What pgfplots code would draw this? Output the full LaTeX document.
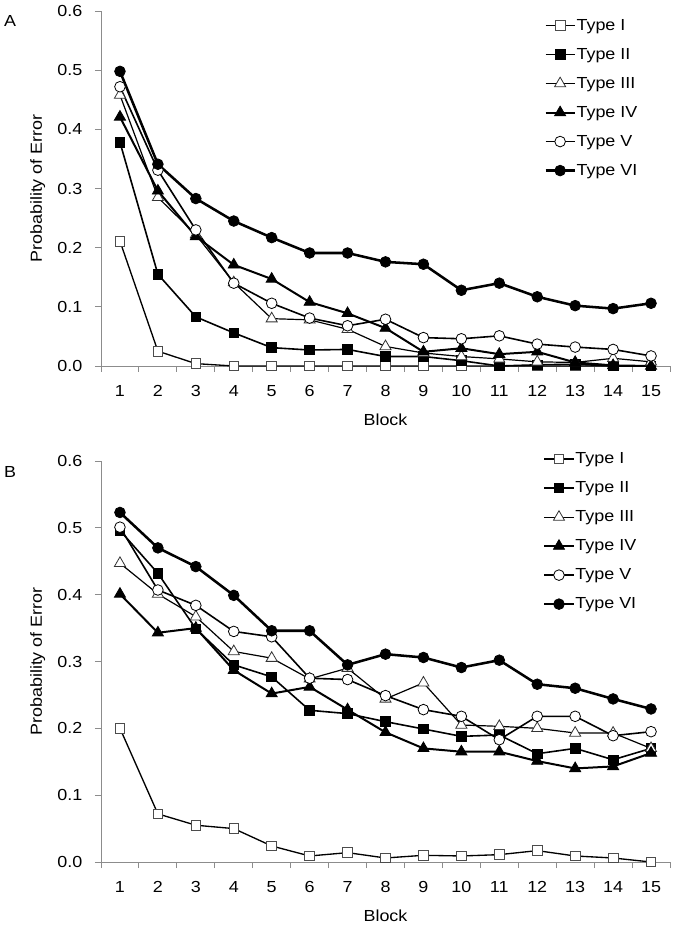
\documentclass[border=0pt]{standalone}
\usepackage{fontspec}
\setmainfont{Liberation Sans}[FakeStretch=1.12]
\usepackage{pgfplots}
\usepackage{pgfplotstable}
\pgfplotsset{compat=1.18}

% probability of error per block, panel A
\pgfplotstableread{
block t1    t2    t3    t4    t5    t6
1     0.211 0.378 0.458 0.421 0.472 0.498
2     0.025 0.155 0.285 0.296 0.331 0.341
3     0.004 0.083 0.222 0.219 0.230 0.283
4     0.000 0.056 0.141 0.171 0.140 0.245
5     0.000 0.031 0.080 0.147 0.106 0.217
6     0.000 0.027 0.078 0.108 0.081 0.191
7     0.000 0.028 0.062 0.089 0.068 0.191
8     0.000 0.016 0.033 0.064 0.079 0.176
9     0.000 0.016 0.022 0.024 0.048 0.172
10    0.000 0.009 0.016 0.030 0.046 0.128
11    0.000 0.000 0.012 0.020 0.051 0.140
12    0.000 0.002 0.007 0.024 0.037 0.117
13    0.000 0.003 0.006 0.006 0.032 0.102
14    0.000 0.000 0.013 0.001 0.028 0.097
15    0.000 0.000 0.007 0.000 0.017 0.106
}\dataA

% panel B
\pgfplotstableread{
block t1    t2    t3    t4    t5    t6
1     0.200 0.496 0.447 0.401 0.501 0.523
2     0.072 0.432 0.401 0.343 0.407 0.470
3     0.055 0.349 0.367 0.350 0.384 0.442
4     0.050 0.295 0.315 0.287 0.345 0.399
5     0.024 0.277 0.305 0.252 0.337 0.346
6     0.009 0.227 0.274 0.262 0.275 0.346
7     0.014 0.222 0.290 0.228 0.273 0.295
8     0.006 0.210 0.244 0.194 0.249 0.311
9     0.010 0.199 0.268 0.170 0.228 0.306
10    0.009 0.188 0.205 0.165 0.218 0.291
11    0.011 0.190 0.203 0.165 0.183 0.302
12    0.017 0.162 0.200 0.151 0.218 0.266
13    0.009 0.170 0.193 0.140 0.218 0.260
14    0.006 0.153 0.193 0.143 0.189 0.244
15    0.000 0.170 0.170 0.163 0.195 0.229
}\dataB

\newcommand{\chartfont}{\fontsize{12}{14}\selectfont}

\pgfplotsset{
  tI/.style={black, line width=1pt, mark=square*, mark size=3.6pt,
    mark options={fill=white, draw=black!70, line width=0.6pt}},
  tII/.style={black, line width=1.2pt, mark=square*, mark size=3.6pt,
    mark options={fill=black, draw=black, line width=0.6pt}},
  tIII/.style={black, line width=0.9pt, mark=triangle*, mark size=4.8pt,
    mark options={fill=white, draw=black!80, line width=0.6pt}},
  tIV/.style={black, line width=1.5pt, mark=triangle*, mark size=4.8pt,
    mark options={fill=black, draw=black, line width=0.6pt}},
  tV/.style={black, line width=1.2pt, mark=*, mark size=4pt,
    mark options={fill=white, draw=black, line width=0.6pt}},
  tVI/.style={black, line width=1.9pt, mark=*, mark size=4pt,
    mark options={fill=black, draw=black, line width=0.6pt}},
  panel/.style={
    scale only axis,
    width=426.75pt,
    xmin=0.5, xmax=15.5, ymin=0, ymax=0.6,
    clip=false,
    axis x line*=bottom, axis y line*=left,
    axis line style={draw=black!45, line width=0.7pt},
    tick align=outside,
    major tick length=4.5pt, minor tick length=4.5pt,
    tick style={draw=black!45, line width=0.7pt},
    major x tick style={draw=none},
    xtick={1,...,15},
    minor xtick={0.5,1.5,...,15.5},
    ytick={0,0.1,0.2,0.3,0.4,0.5,0.6},
    yticklabel style={/pgf/number format/fixed, /pgf/number format/fixed zerofill,
      /pgf/number format/precision=1, xshift=-6pt},
    xticklabel style={yshift=-6.25pt},
    /pgf/number format/assume math mode=true,
    tick label style={font=\chartfont},
    label style={font=\chartfont},
    xlabel={Block},
    xlabel style={at={(axis description cs:0.5,0)}, anchor=center, yshift=-40pt},
    ylabel={Probability of Error},
    ylabel style={at={(axis description cs:-0.111,0.5)}, anchor=center},
    legend cell align=left,
    legend style={draw=none, fill=none, anchor=north west, font=\chartfont,
      row sep=11pt, inner sep=0pt, nodes={inner sep=0.5pt, anchor=west}},
    legend image code/.code={%
      \draw[mark repeat=2,mark phase=2] plot coordinates {(0pt,0pt)(10.9pt,0pt)(21.8pt,0pt)};},
  },
}

\begin{document}
\begin{tikzpicture}
\useasboundingbox (-75.75pt,-50.25pt) rectangle (430.5pt,646.5pt);

\begin{axis}[panel, height=266.25pt, at={(0pt,372pt)}, anchor=south west,
  legend style={at={(axis cs:12.18,0.588)}}]
\addplot[tI] table[x=block, y=t1] {\dataA};
\addplot[tII] table[x=block, y=t2] {\dataA};
\addplot[tIII] table[x=block, y=t3] {\dataA};
\addplot[tIV] table[x=block, y=t4] {\dataA};
\addplot[tV] table[x=block, y=t5] {\dataA};
\addplot[tVI] table[x=block, y=t6] {\dataA};
\legend{Type I, Type II, Type III, Type IV, Type V, Type VI}
\node[font=\chartfont, xshift=-68.25pt, yshift=-7.5pt] at (rel axis cs:0,1) {A};
\end{axis}

\begin{axis}[panel, height=300.75pt, at={(0pt,0pt)}, anchor=south west,
  legend style={at={(axis cs:12.15,0.614)}}]
\addplot[tI] table[x=block, y=t1] {\dataB};
\addplot[tII] table[x=block, y=t2] {\dataB};
\addplot[tIII] table[x=block, y=t3] {\dataB};
\addplot[tIV] table[x=block, y=t4] {\dataB};
\addplot[tV] table[x=block, y=t5] {\dataB};
\addplot[tVI] table[x=block, y=t6] {\dataB};
\legend{Type I, Type II, Type III, Type IV, Type V, Type VI}
\node[font=\chartfont, xshift=-68.25pt, yshift=-8.25pt] at (rel axis cs:0,1) {B};
\end{axis}
\end{tikzpicture}
\end{document}
